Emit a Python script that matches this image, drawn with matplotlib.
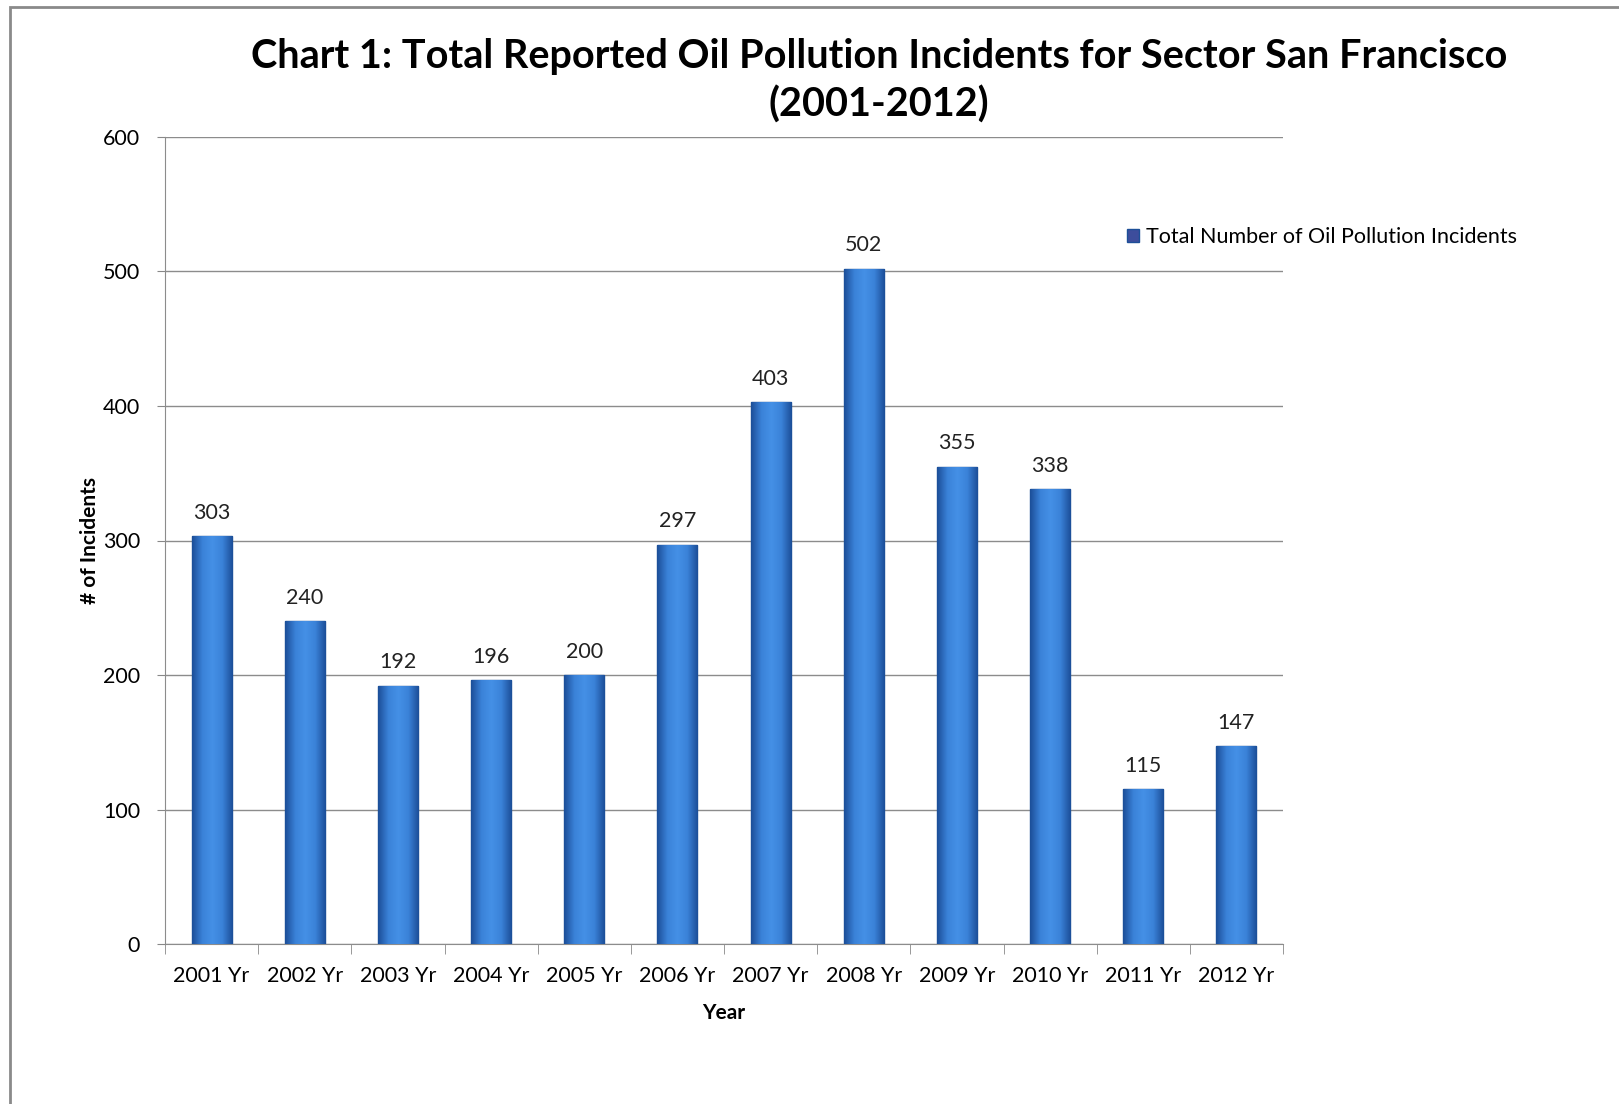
import matplotlib.pyplot as plt
import numpy as np
from matplotlib.patches import Rectangle
from matplotlib.colors import LinearSegmentedColormap

years = ["2001 Yr", "2002 Yr", "2003 Yr", "2004 Yr", "2005 Yr", "2006 Yr",
         "2007 Yr", "2008 Yr", "2009 Yr", "2010 Yr", "2011 Yr", "2012 Yr"]
incidents = [303, 240, 192, 196, 200, 297, 403, 502, 355, 338, 115, 147]

plt.rcParams["font.family"] = ["Lato", "DejaVu Sans"]

fig = plt.figure(figsize=(16.19, 11.04), dpi=100)
ax = fig.add_axes([165 / 1619, 1 - 944 / 1104, (1283 - 165) / 1619, (944 - 137) / 1104])

x = list(range(len(years)))
bars = ax.bar(x, incidents, width=0.43, color="#2f6fc4", edgecolor="#1d4f98",
              linewidth=1.0, zorder=3, label="Total Number of Oil Pollution Incidents")

# horizontal shading on each bar, lighter in the middle
shade = LinearSegmentedColormap.from_list("barshade", ["#1c4f99", "#3a82d8", "#4590e6", "#3a82d8", "#1c4f99"])
grad = np.linspace(0, 1, 64).reshape(1, -1)
for b in bars:
    im = ax.imshow(grad, cmap=shade, aspect="auto", zorder=3.5,
                   extent=[b.get_x(), b.get_x() + b.get_width(), 0, b.get_height()])
    im.set_clip_path(b)

for xi, v in zip(x, incidents):
    ax.text(xi, v + 10, str(v), ha="center", va="bottom", fontsize=15.5, color="#222222")

ax.set_xlim(-0.5, len(years) - 0.5)
ax.set_ylim(0, 600)
ax.set_yticks(range(0, 601, 100))
ax.set_xticks(x)
ax.set_xticklabels(years, fontsize=15.5)
ax.set_xticks([i - 0.5 for i in range(len(years) + 1)], minor=True)
ax.tick_params(axis="x", which="major", length=0, pad=16)
ax.tick_params(axis="x", which="minor", length=7, color="#888888")
ax.tick_params(axis="y", labelsize=15.5, length=6, color="#888888", pad=12)
ax.yaxis.grid(True, color="#8c8c8c", linewidth=1.0, zorder=0)

for s in ["top", "right"]:
    ax.spines[s].set_visible(False)
for s in ["left", "bottom"]:
    ax.spines[s].set_color("#8c8c8c")

ax.set_xlabel("Year", fontsize=15, fontweight="bold", labelpad=12)
ax.set_ylabel("# of Incidents", fontsize=15, fontweight="bold", labelpad=0)
ax.yaxis.set_label_coords(-(165 - 100) / (1283 - 165), 0.5)

fig.text(879 / 1619, 1 - 81 / 1104,
         "Chart 1: Total Reported Oil Pollution Incidents for Sector San Francisco\n(2001-2012)",
         ha="center", va="center", fontsize=28.5, fontweight="bold", linespacing=1.35)

fig.legend(handles=[bars], loc="center left", bbox_to_anchor=(1108 / 1619, 1 - 237 / 1104),
           frameon=False, fontsize=15.5, handlelength=0.55, handleheight=0.55, handletextpad=0.3)
fig.legends[0].legend_handles[0].set_facecolor("#3d4d9c")

# chart border
fig.add_artist(Rectangle((10 / 1619, -0.01), 1.02, 1 - 7 / 1104 + 0.01, transform=fig.transFigure,
                         fill=False, edgecolor="#8a8a8a", linewidth=2))

fig.savefig("out.png", dpi=100)
